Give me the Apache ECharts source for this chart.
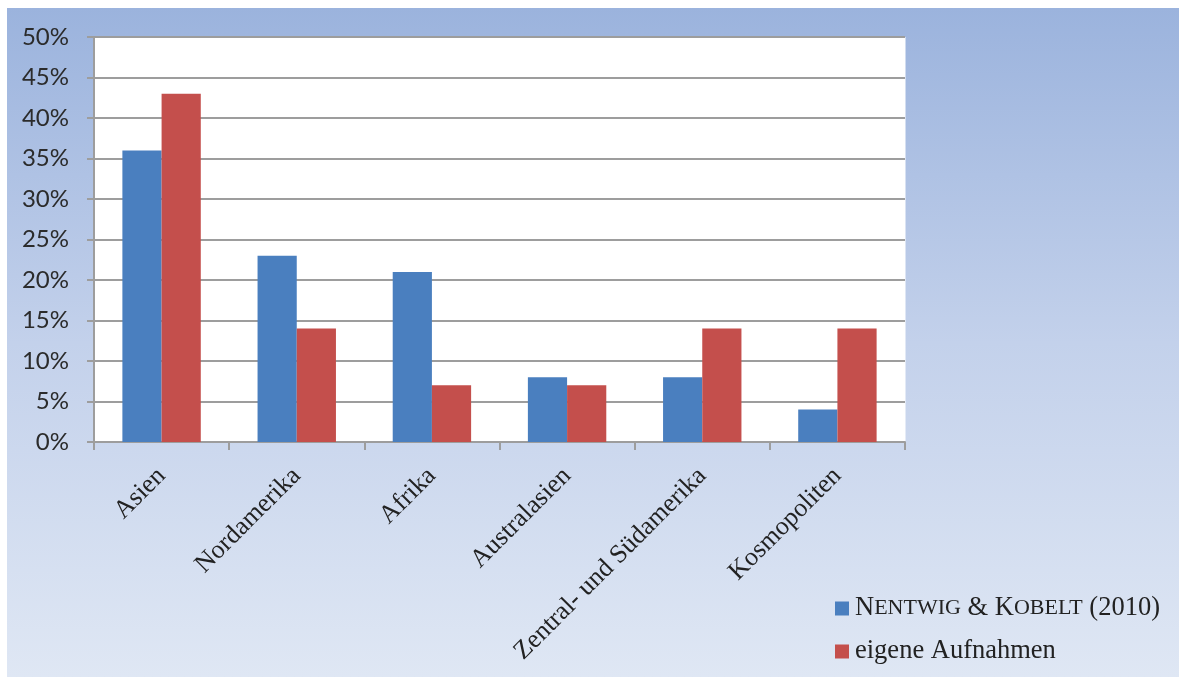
<!DOCTYPE html>
<html>
<head>
<meta charset="utf-8">
<script src="https://cdn.jsdelivr.net/npm/echarts@6/dist/echarts.min.js"></script>
<style>
  html, body { margin: 0; padding: 0; background: #ffffff; }
  #wrap { position: relative; width: 1179px; height: 677px; overflow: hidden; }
  #bg { position: absolute; left: 7px; top: 8px; right: 0; bottom: 0;
        background: linear-gradient(to bottom, #9bb3dd 0%, #c3d1eb 50%, #dfe7f4 100%); }
  #chart { position: absolute; left: 0; top: 0; width: 1179px; height: 677px; }
</style>
</head>
<body>
<div id="wrap">
  <div id="bg"></div>
  <div id="chart"></div>
</div>
<script>
// Regions of origin (share of species, in percent)
const categories = ['Asien', 'Nordamerika', 'Afrika', 'Australasien', 'Zentral- und Südamerika', 'Kosmopoliten'];
const nentwigKobelt = [36, 23, 21, 8, 8, 4];
const eigeneAufnahmen = [43, 14, 7, 7, 14, 14];
const seriesNames = ['Nentwig & Kobelt (2010)', 'eigene Aufnahmen'];
const yTicks = { min: 0, max: 50, interval: 5 };

const chart = echarts.init(document.getElementById('chart'), null, { renderer: 'canvas' });

const serif = '"Liberation Serif", "DejaVu Serif", serif';

chart.setOption({
  backgroundColor: 'transparent',
  animation: false,
  grid: {
    left: 94, top: 37, right: 274, bottom: 235,
    show: true, backgroundColor: '#ffffff', borderColor: '#ffffff', borderWidth: 1
  },
  legend: {
    orient: 'vertical',
    left: 830,
    top: 590,
    itemWidth: 14,
    itemHeight: 14,
    itemGap: 16,
    icon: 'rect',
    data: seriesNames,
    formatter: function (name) {
      if (name === seriesNames[0]) {
        return '{b|N}{s|ENTWIG} {b|&} {b|K}{s|OBELT} {b|(2010)}';
      }
      return '{b|' + name + '}';
    },
    textStyle: {
      color: '#222',
      fontFamily: serif,
      fontSize: 26.5,
      padding: [0, 0, 0, 1],
      rich: {
        b: { fontFamily: serif, fontSize: 26.5, color: '#222', lineHeight: 31 },
        s: { fontFamily: serif, fontSize: 22, color: '#222', lineHeight: 27 }
      }
    }
  },
  xAxis: {
    type: 'category',
    data: categories,
    splitLine: { show: false },
    axisLine: { lineStyle: { color: '#9d9d9d', width: 2 } },
    axisTick: { show: true, length: 8, alignWithLabel: false, lineStyle: { color: '#9d9d9d', width: 2 } },
    axisLabel: {
      rotate: 45,
      interval: 0,
      margin: 30,
      color: '#222',
      fontFamily: serif,
      fontSize: 26
    }
  },
  yAxis: {
    type: 'value',
    min: yTicks.min,
    max: yTicks.max,
    interval: yTicks.interval,
    axisLine: { show: true, lineStyle: { color: '#9d9d9d', width: 2 } },
    axisTick: { show: true, length: 7, lineStyle: { color: '#9d9d9d', width: 2 } },
    splitLine: { show: true, lineStyle: { color: '#9d9d9d', width: 2 } },
    axisLabel: {
      formatter: '{value}%',
      margin: 25,
      color: '#2b2b2b',
      fontFamily: 'Lato, "Open Sans", sans-serif',
      fontSize: 24
    }
  },
  series: [
    {
      name: seriesNames[0],
      type: 'bar',
      data: nentwigKobelt,
      barGap: '0%',
      barCategoryGap: '42%',
      itemStyle: { color: '#4a7fbf' }
    },
    {
      name: seriesNames[1],
      type: 'bar',
      data: eigeneAufnahmen,
      barGap: '0%',
      barCategoryGap: '42%',
      itemStyle: { color: '#c44f4c' }
    }
  ]
});
</script>
</body>
</html>
